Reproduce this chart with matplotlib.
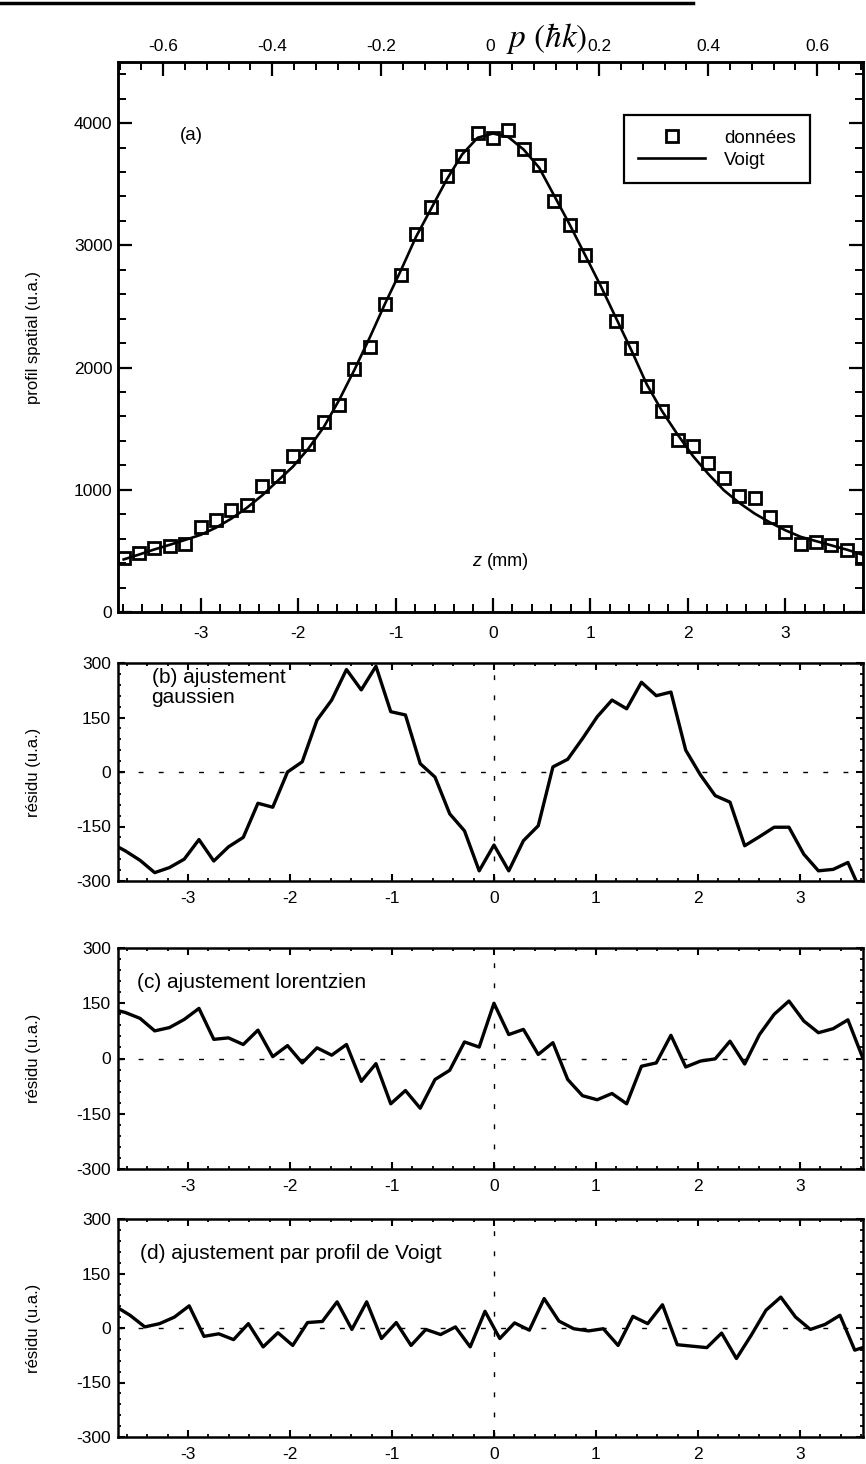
import numpy as np
import matplotlib
matplotlib.use('Agg')
import matplotlib.pyplot as plt
from matplotlib.ticker import MultipleLocator, FixedLocator, FixedFormatter
from matplotlib.lines import Line2D

plt.rcParams['font.family'] = ['Liberation Sans', 'DejaVu Sans']
plt.rcParams['mathtext.fontset'] = 'stix'
plt.rcParams['axes.unicode_minus'] = False

# ---------------- data ----------------
# (a) spatial profile
z_a = [-3.792, -3.634, -3.476, -3.318, -3.160, -3.002, -2.844, -2.686, -2.528, -2.370,
       -2.212, -2.054, -1.896, -1.738, -1.580, -1.422, -1.264, -1.106, -0.948, -0.790,
       -0.632, -0.474, -0.316, -0.158, 0.000, 0.158, 0.316, 0.474, 0.632, 0.790,
       0.948, 1.106, 1.264, 1.422, 1.580, 1.738, 1.896, 2.054, 2.212, 2.370,
       2.528, 2.686, 2.844, 3.002, 3.160, 3.318, 3.476, 3.634, 3.792]
donnees = [440, 485, 523, 543, 558, 699, 749, 837, 875, 1034,
           1110, 1278, 1374, 1557, 1695, 1991, 2167, 2520, 2755, 3090,
           3313, 3568, 3730, 3921, 3880, 3940, 3790, 3660, 3360, 3170,
           2920, 2654, 2380, 2164, 1848, 1642, 1408, 1355, 1217, 1100,
           950, 935, 777, 651, 560, 570, 550, 510, 440]
voigt = [430, 470, 512, 550, 590, 631, 690, 764, 852, 954,
         1072, 1189, 1336, 1512, 1733, 1982, 2247, 2526, 2790, 3069,
         3304, 3539, 3744, 3880, 3915, 3886, 3783, 3636, 3402, 3167,
         2918, 2669, 2405, 2141, 1862, 1642, 1452, 1276, 1129, 997,
         894, 806, 733, 669, 615, 580, 545, 510, 470]

# (b), (c) residuals
z_bc = [-3.760, -3.615, -3.470, -3.326, -3.181, -3.037, -2.892, -2.747, -2.603, -2.458,
        -2.314, -2.169, -2.024, -1.880, -1.735, -1.591, -1.446, -1.301, -1.157, -1.012,
        -0.868, -0.723, -0.578, -0.434, -0.289, -0.145, 0.000, 0.145, 0.289, 0.434,
        0.578, 0.723, 0.868, 1.012, 1.157, 1.301, 1.446, 1.591, 1.735, 1.880,
        2.024, 2.169, 2.314, 2.458, 2.603, 2.747, 2.892, 3.037, 3.181, 3.326,
        3.470, 3.615]
res_gauss = [-195, -217, -243, -277, -263, -240, -186, -245, -206, -180,
             -86, -97, 0, 28, 143, 198, 282, 226, 291, 166,
             157, 23, -14, -115, -162, -272, -201, -272, -189, -148,
             14, 35, 92, 152, 198, 174, 247, 210, 220, 60,
             -8, -65, -83, -203, -178, -152, -152, -226, -272, -268,
             -249, -340]
res_lorentz = [135, 125, 109, 75, 84, 106, 136, 52, 56, 38,
               77, 5, 35, -12, 29, 9, 38, -62, -14, -123,
               -87, -135, -57, -32, 45, 31, 150, 65, 79, 11,
               43, -57, -101, -112, -95, -123, -21, -12, 63, -23,
               -7, -1, 47, -15, 65, 120, 156, 102, 70, 81,
               105, 2]

# (d) residual
z_d = [-3.713, -3.568, -3.423, -3.278, -3.133, -2.988, -2.843, -2.698, -2.553, -2.408,
       -2.263, -2.118, -1.973, -1.828, -1.683, -1.538, -1.393, -1.248, -1.103, -0.958,
       -0.813, -0.668, -0.523, -0.378, -0.233, -0.088, 0.057, 0.202, 0.347, 0.492,
       0.637, 0.782, 0.927, 1.072, 1.217, 1.362, 1.507, 1.652, 1.797, 1.942,
       2.087, 2.232, 2.377, 2.522, 2.667, 2.812, 2.957, 3.102, 3.247, 3.392,
       3.537, 3.682]
res_voigt = [60, 35, 3, 12, 30, 61, -23, -16, -32, 12,
             -52, -13, -48, 15, 18, 72, -4, 72, -29, 15,
             -48, -4, -18, 3, -52, 46, -29, 14, -6, 81,
             19, -2, -8, -2, -48, 32, 12, 64, -46, -50,
             -54, -14, -84, -20, 49, 85, 30, -4, 10, 35,
             -61, -48]

z_ticks = [-3, -2, -1, 0, 1, 2, 3]
p_ticks = [-0.6, -0.4, -0.2, 0, 0.2, 0.4, 0.6]
p_labels = ['-0.6', '-0.4', '-0.2', '0', '0.2', '0.4', '0.6']
a_yticks = [0, 1000, 2000, 3000, 4000]
res_yticks = [-300, -150, 0, 150, 300]

# ---------------- figure ----------------
W, H = 866, 1464
fig = plt.figure(figsize=(W / 100, H / 100), dpi=100)


def px_axes(left, right, top, bottom):
    return fig.add_axes([left / W, 1 - bottom / H, (right - left) / W, (bottom - top) / H])


TICK_FS = 12.5

# ---- panel (a)
ax_a = px_axes(118, 863, 62, 612)
ax_a.plot(z_a, voigt, color='black', lw=1.9, zorder=2)
ax_a.plot(z_a, donnees, linestyle='none', marker='s', markersize=8.5,
          markerfacecolor='none', markeredgecolor='black', markeredgewidth=2.0,
          zorder=3, clip_on=True)
ax_a.set_xlim(-3.85, 3.8)
ax_a.set_ylim(0, 4500)
ax_a.xaxis.set_major_locator(FixedLocator(z_ticks))
ax_a.xaxis.set_minor_locator(MultipleLocator(0.2))
ax_a.yaxis.set_major_locator(FixedLocator(a_yticks))
ax_a.yaxis.set_minor_locator(MultipleLocator(200))
ax_a.tick_params(axis='both', which='both', direction='in', top=False, right=True,
                 labelsize=TICK_FS)
ax_a.tick_params(axis='both', which='major', length=10, width=1.6)
ax_a.tick_params(axis='both', which='minor', length=5.5, width=1.4)
ax_a.tick_params(axis='x', which='major', pad=10)
ax_a.tick_params(axis='y', which='major', pad=4)
for s in ax_a.spines.values():
    s.set_linewidth(1.8)
ax_a.set_ylabel('profil spatial (u.a.)', fontsize=12)
ax_a.yaxis.set_label_coords(-0.104, 0.5)
ax_a.text(-3.1, 3900, '(a)', fontsize=13.5, ha='center', va='center')
ax_a.text(-0.12, 410, 'z', fontsize=13, fontstyle='italic', ha='right', va='center')
ax_a.text(-0.06, 410, '(mm)', fontsize=13, ha='left', va='center')

handles = [Line2D([], [], linestyle='none', marker='s', markersize=8.5,
                  markerfacecolor='none', markeredgecolor='black', markeredgewidth=2.0),
           Line2D([], [], color='black', lw=1.9)]
leg = ax_a.legend(handles, ['données', 'Voigt'], loc='upper left',
                  bbox_to_anchor=(0.679, 0.903), borderaxespad=0, fontsize=13.5,
                  frameon=True, fancybox=False, edgecolor='black', framealpha=1,
                  handlelength=3.6, handletextpad=1.0, borderpad=0.75, labelspacing=0.28)
leg.get_frame().set_linewidth(1.6)

ax_p = ax_a.twiny()
ax_p.set_xlim(-0.683, 0.684)
ax_p.xaxis.set_major_locator(FixedLocator(p_ticks))
ax_p.xaxis.set_major_formatter(FixedFormatter(p_labels))
ax_p.xaxis.set_minor_locator(MultipleLocator(0.04))
ax_p.tick_params(axis='x', which='both', direction='in', labelsize=TICK_FS, pad=6)
ax_p.tick_params(axis='x', which='major', length=10, width=1.6)
ax_p.tick_params(axis='x', which='minor', length=5.5, width=1.4)
for s in ax_p.spines.values():
    s.set_linewidth(1.8)
fig.text(547 / W, 1 - 38 / H, r'$p\ (\hbar k)$', fontsize=24, ha='center', va='center')

# ---- residual panels
def residual_panel(top, bottom, z, r, label, label_xy):
    ax = px_axes(118, 863, top, bottom)
    ax.axhline(0, color='black', lw=1.0, dashes=(3.5, 11), zorder=1)
    ax.axvline(0, color='black', lw=1.0, dashes=(3.5, 11), zorder=1)
    ax.plot(z, r, color='black', lw=2.4, zorder=3)
    ax.set_xlim(-3.686, 3.618)
    ax.set_ylim(-300, 300)
    ax.xaxis.set_major_locator(FixedLocator(z_ticks))
    ax.xaxis.set_minor_locator(MultipleLocator(0.2))
    ax.yaxis.set_major_locator(FixedLocator(res_yticks))
    ax.yaxis.set_minor_locator(MultipleLocator(30))
    ax.tick_params(axis='both', which='both', direction='in', top=True, right=True,
                   labelsize=TICK_FS)
    ax.tick_params(axis='both', which='major', length=5, width=1.5)
    ax.tick_params(axis='both', which='minor', length=2.5, width=1.3)
    ax.tick_params(axis='x', which='major', pad=7)
    ax.tick_params(axis='y', which='major', pad=5)
    for s in ax.spines.values():
        s.set_linewidth(1.8)
    ax.set_ylabel('résidu (u.a.)', fontsize=12)
    ax.yaxis.set_label_coords(-0.104, 0.5)
    ax.text(label_xy[0], label_xy[1], label, transform=ax.transAxes, fontsize=15,
            ha='left', va='top', linespacing=1.05)
    return ax

ax_b = residual_panel(663, 881, z_bc, res_gauss, '(b) ajustement\ngaussien', (0.045, 0.975))
ax_c = residual_panel(948, 1169, z_bc, res_lorentz, '(c) ajustement lorentzien', (0.025, 0.885))
ax_d = residual_panel(1219, 1437, z_d, res_voigt, '(d) ajustement par profil de Voigt', (0.03, 0.885))

# page border line at the top of the scan
fig.add_artist(Line2D([0, 0.80], [1 - 3 / H, 1 - 3 / H], color='black', lw=2.5,
                      transform=fig.transFigure))

fig.savefig('out.png', dpi=100)
